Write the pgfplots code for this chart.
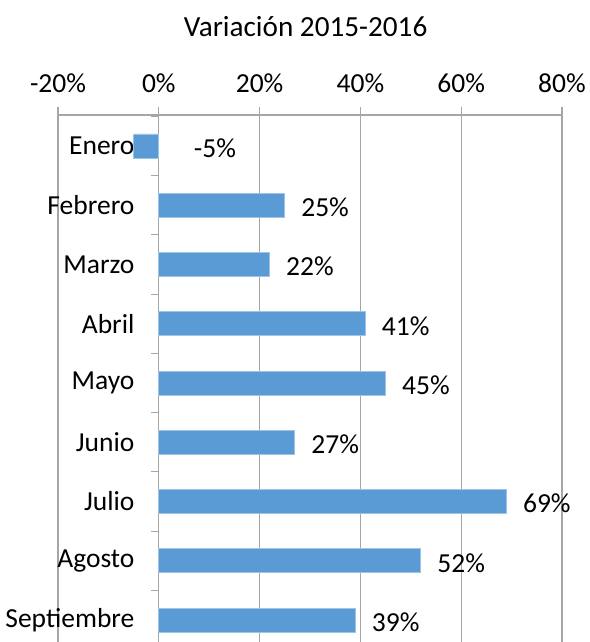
\documentclass[border=0pt]{standalone}
\usepackage{pgfplots}
\pgfplotsset{compat=1.18}
\usepackage{fontspec}
\setmainfont{Carlito}
\definecolor{barblue}{HTML}{5B9BD5}
\definecolor{baredge}{HTML}{9DC3E6}
\definecolor{gridgray}{HTML}{A6A6A6}
\begin{document}
\begin{tikzpicture}[font=\fontsize{13.75}{16}\selectfont]
\begin{axis}[
 name=ax,
 scale only axis,
 width=252pt, height=263.5pt,
 xmin=-20, xmax=80,
 ymin=-0.371, ymax=8.523,
 axis x line=top,
 axis y line=center,
 axis line style={gridgray, line width=0.6pt, -},
 xtick={-20,0,20,40,60,80},
 xticklabels={-20\%,0\%,20\%,40\%,60\%,80\%},
 xmajorgrids,
 grid style={gridgray, line width=0.6pt},
 tick align=outside,
 major tick length=4pt,
 tick style={gridgray, line width=0.6pt},
 ytick={0.5,1.5,2.5,3.5,4.5,5.5,6.5,7.5,8.5},
 yticklabels={},
 extra y ticks={0,1,2,3,4,5,6,7,8},
 extra y tick labels={Septiembre,Agosto,Julio,Junio,Mayo,Abril,Marzo,Febrero,Enero},
 extra y tick style={major tick length=0pt, yticklabel style={anchor=east, inner sep=0pt, xshift=-12pt}},
 xticklabel style={inner sep=0pt, yshift=7pt},
 clip=true,
]
\addplot[xbar, bar width=12pt, fill=barblue, draw=baredge, line width=0.4pt]
 coordinates {(-5,8) (25,7) (22,6) (41,5) (45,4) (27,3) (69,2) (52,1) (39,0)};
\addplot[draw=none, mark=none, nodes near coords={\pgfplotspointmeta\%},
 point meta=explicit symbolic,
 nodes near coords style={anchor=west, inner sep=0pt, yshift=-1pt}]
 table[meta=label] {
x y label
6.9 8 -5
28.2 7 25
25.2 6 22
44.2 5 41
48.2 4 45
30.2 3 27
72.2 2 69
55.2 1 52
42.2 0 39
};
\end{axis}
\draw[gridgray, line width=0.6pt] (ax.north west) -- (ax.north east);
\foreach \s in {0,50.4,100.8,151.2,201.6,252}
  \draw[gridgray, line width=0.6pt] ([xshift=\s pt]ax.north west) -- ++(0,4pt);
\node[anchor=base, font=\fontsize{14.6}{17}\selectfont] at ([xshift=-2.2pt, yshift=39pt]ax.north) {Variación 2015-2016};
\pgfresetboundingbox
\path[use as bounding box] ([xshift=-29pt]ax.south west) rectangle ([xshift=13.5pt, yshift=57.5pt]ax.north east);
\end{tikzpicture}
\end{document}
